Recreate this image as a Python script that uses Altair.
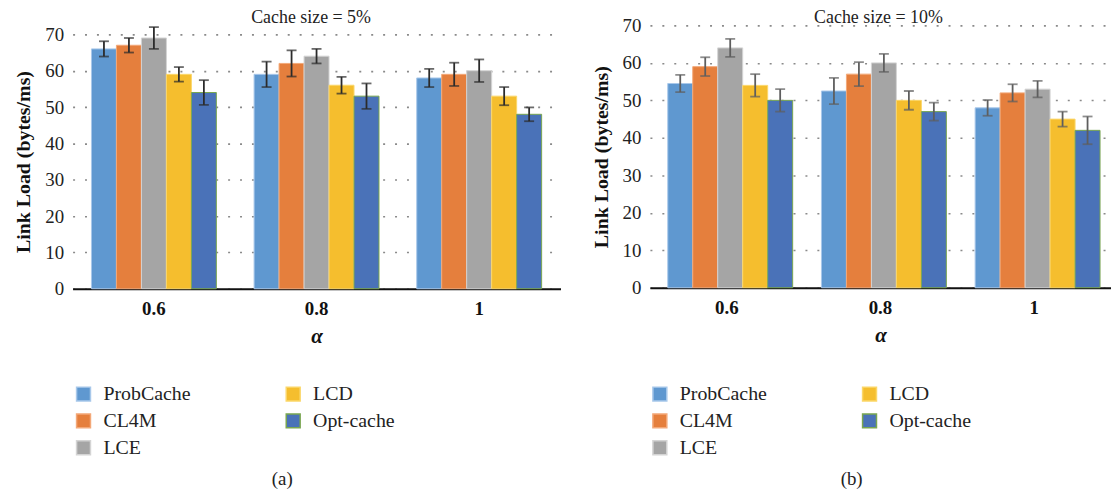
import altair as alt
import pandas as pd

groups = ["0.6", "0.8", "1"]
series = ["ProbCache", "CL4M", "LCE", "LCD", "Opt-cache"]
fills = ["#5f98d0", "#e57f3d", "#a5a5a5", "#f5be2e", "#4a72b8"]
edges = ["#a8c8ea", "#f3a878", "#d4d4d4", "#fbd76a", "#7aa650"]

# Cache size = 5%
a_probcache = [66, 59, 58]
a_cl4m = [67, 62, 59]
a_lce = [69, 64, 60]
a_lcd = [59, 56, 53]
a_opt = [54, 53, 48]
a_probcache_err = [2.1, 3.5, 2.5]
a_cl4m_err = [2.0, 3.6, 3.2]
a_lce_err = [3.0, 2.0, 3.1]
a_lcd_err = [2.0, 2.3, 2.5]
a_opt_err = [3.4, 3.5, 1.9]

# Cache size = 10%
b_probcache = [54.5, 52.5, 48]
b_cl4m = [59, 57, 52]
b_lce = [64, 60, 53]
b_lcd = [54, 50, 45]
b_opt = [50, 47, 42]
b_probcache_err = [2.3, 3.5, 2.1]
b_cl4m_err = [2.5, 3.2, 2.3]
b_lce_err = [2.4, 2.4, 2.2]
b_lcd_err = [3.0, 2.5, 2.0]
b_opt_err = [3.0, 2.4, 3.7]

y_ticks = [0, 10, 20, 30, 40, 50, 60, 70]

FONT = "'Liberation Serif', 'DejaVu Serif', serif"


def table(vals, errs):
    rows = []
    for s, v, e in zip(series, vals, errs):
        for g, vv, ee in zip(groups, v, e):
            rows.append({"alpha": g, "series": s, "value": vv,
                         "lo": vv - ee, "hi": vv + ee})
    return pd.DataFrame(rows)


def panel(df, title, caption, width, height, ymax, errcolor, title_y, axis_title_y,
          lx, ly, cap_x, cap_y, title_x):
    xaxis = alt.Axis(title="α", labelAngle=0, ticks=False,
                     labelFont=FONT, labelFontSize=19, labelFontWeight="bold",
                     labelColor="#111", labelPadding=11,
                     titleFont=FONT, titleFontSize=21, titleFontWeight="bold",
                     titleFontStyle="italic", titleColor="#111", titlePadding=7,
                     domainColor="#111", domainWidth=2)
    xscale = alt.Scale(paddingInner=0.232, paddingOuter=0.116)
    x = alt.X("alpha:N", sort=groups, scale=xscale, axis=xaxis)
    xo = alt.XOffset("series:N", sort=series)
    yscale = alt.Scale(domain=[0, ymax], nice=False, zero=True)
    yaxis = alt.Axis(values=y_ticks, title="Link Load (bytes/ms)",
                     domain=False, ticks=False, labelOverlap=False,
                     labelFont=FONT, labelFontSize=19, labelColor="#222",
                     labelPadding=9,
                     titleFont=FONT, titleFontSize=20, titleFontWeight="bold",
                     titleColor="#111", titlePadding=11, titleY=axis_title_y,
                     grid=True, gridDash=[2, 10], gridColor="#8a8a8a",
                     gridWidth=1.6)
    leg = alt.Legend(title=None, orient="none", legendX=lx, legendY=ly, columns=2,
                     symbolType="square", symbolSize=196, symbolStrokeWidth=1.5,
                     labelFont=FONT, labelFontSize=20, labelColor="#222",
                     labelOffset=10, columnPadding=93, rowPadding=7, padding=0)
    bars = alt.Chart(df).mark_bar(strokeWidth=1).encode(
        x=x, xOffset=xo,
        y=alt.Y("value:Q", scale=yscale, axis=yaxis),
        color=alt.Color("series:N", scale=alt.Scale(domain=series, range=fills),
                        legend=leg),
        stroke=alt.Stroke("series:N", scale=alt.Scale(domain=series, range=edges),
                          legend=leg),
    )
    rule = alt.Chart(df).mark_rule(color=errcolor, strokeWidth=1.8).encode(
        x=x, xOffset=xo, y=alt.Y("lo:Q", scale=yscale, axis=yaxis), y2="hi:Q")
    cap_lo = alt.Chart(df).mark_tick(color=errcolor, thickness=1.8, size=10).encode(
        x=x, xOffset=xo, y=alt.Y("lo:Q", scale=yscale, axis=yaxis))
    cap_hi = alt.Chart(df).mark_tick(color=errcolor, thickness=1.8, size=10).encode(
        x=x, xOffset=xo, y=alt.Y("hi:Q", scale=yscale, axis=yaxis))
    ttl = alt.Chart(pd.DataFrame({"t": [title]})).mark_text(
        font=FONT, fontSize=18, color="#222", baseline="middle", align="center"
    ).encode(text="t:N", x=alt.value(title_x), y=alt.value(title_y))
    cap = alt.Chart(pd.DataFrame({"t": [caption]})).mark_text(
        font=FONT, fontSize=19, color="#222", baseline="middle", align="center"
    ).encode(text="t:N", x=alt.value(cap_x), y=alt.value(cap_y))
    return alt.layer(bars, rule, cap_lo, cap_hi, ttl, cap).properties(
        width=width, height=height)


df_a = table([a_probcache, a_cl4m, a_lce, a_lcd, a_opt],
             [a_probcache_err, a_cl4m_err, a_lce_err, a_lcd_err, a_opt_err])
df_b = table([b_probcache, b_cl4m, b_lce, b_lcd, b_opt],
             [b_probcache_err, b_cl4m_err, b_lce_err, b_lcd_err, b_opt_err])

pa = panel(df_a, "Cache size = 5%", "(a)", 491, 265, 70 * 265 / 256, "#2b2b2b",
           -7, 137, 1, 361, 211, 456, 240)
pb = panel(df_b, "Cache size = 10%", "(b)", 464, 264, 70, "#5e5e5e",
           -7, 132, 0, 361, 203, 456, 230)

chart = alt.hconcat(pa, pb, spacing=90, bounds="flush").resolve_scale(
    color="independent", stroke="independent"
).properties(padding={"left": 6, "top": 0, "right": 0, "bottom": 0}
).configure(background="white", view=alt.ViewConfig(stroke=None))

chart.save("out.html", embed_options={"renderer": "svg", "actions": False})
